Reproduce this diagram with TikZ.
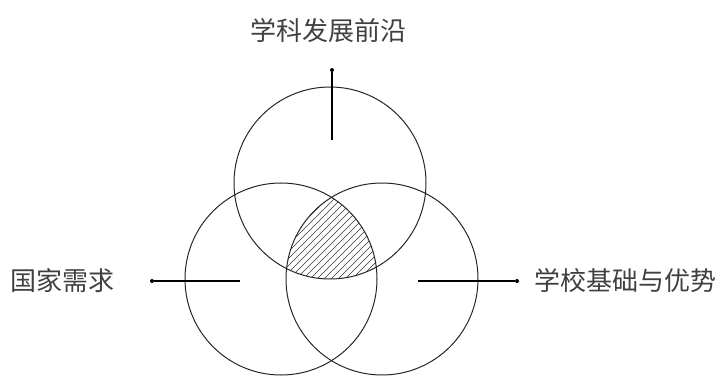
\documentclass[tikz,border=0pt]{standalone}
\usepackage{fontspec}
\newfontfamily\cjk{Noto Sans CJK SC}
\usetikzlibrary{positioning}

\begin{document}
\begin{tikzpicture}[
    x=1pt,y=-1pt,
    font=\cjk\fontsize{26}{30}\selectfont,
    ring/.style={circle,draw=black!85,line width=1pt,minimum size=192pt,inner sep=0pt},
    dot/.style={circle,fill=black,inner sep=0pt,minimum size=4pt},
    line/.style={draw=black,line width=1.2pt},
    hatch/.style={draw=black!80,line width=0.7pt},
    tag/.style={text=black!75,inner sep=0pt}
]
\useasboundingbox (0,0) rectangle (718,377);
\node[ring] (front) at (330,183) {};
\node[ring] (need) at (281,279) {};
\node[ring] (base) at (382,279) {};
% shared part of all three
\begin{scope}
\clip (330,183) circle (96);
\clip (281,279) circle (96);
\clip (382,279) circle (96);
\foreach \x in {236,243,...,404}
    \draw[hatch] (\x,290) -- ++(120,-120);
\end{scope}
\node[dot] (frontdot) at (332,70) {};
\node[dot] (needdot) at (152,281) {};
\node[dot] (basedot) at (517,281) {};
\coordinate (frontend) at (332,140);
\coordinate (needend) at (240,281);
\coordinate (baseend) at (418,281);
\draw[line] (frontend) -- (frontdot);
\draw[line] (needend) -- (needdot);
\draw[line] (baseend) -- (basedot);
\node[tag] (fronttext) at (328,31) {学科发展前沿};
\node[tag,left=35pt of needdot] (needtext) {国家需求};
\node[tag,right=15pt of basedot] (basetext) {学校基础与优势};
\end{tikzpicture}
\end{document}
